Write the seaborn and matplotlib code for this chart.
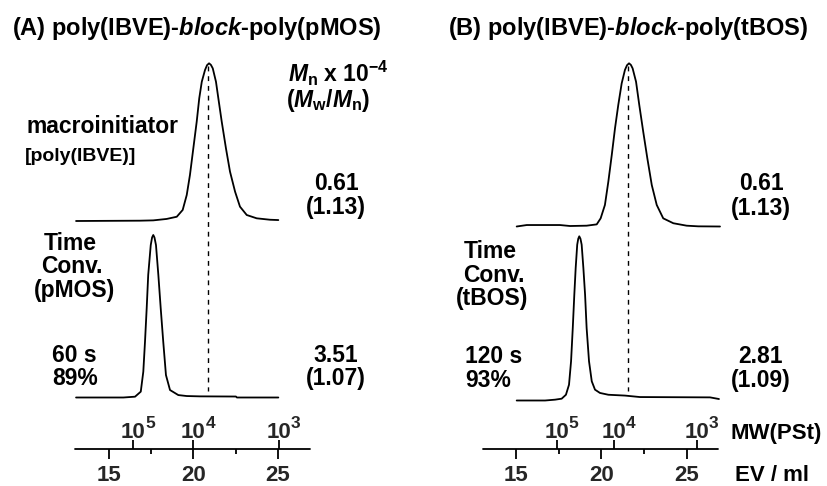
import numpy as np
import pandas as pd
import seaborn as sns
import matplotlib
matplotlib.use("Agg")
from matplotlib import pyplot as plt

# SEC curves: elution volume (ml) and normalised RI intensity
ev_a_macro = [13.05, 16.83, 17.62, 18.41, 19.01, 19.36, 19.60, 19.79, 19.99, 20.19, 20.34, 20.49,
              20.68, 20.80, 20.92, 21.03, 21.14, 21.33, 21.47, 21.67, 21.92, 22.16, 22.46, 22.75,
              23.15, 23.74, 24.53, 25.02]
int_a_macro = [0.0, 0.002, 0.004, 0.013, 0.027, 0.070, 0.165, 0.292, 0.461, 0.630, 0.778, 0.883,
               0.957, 0.988, 1.0, 0.99, 0.968, 0.883, 0.778, 0.630, 0.461, 0.313, 0.186, 0.091,
               0.038, 0.017, 0.008, 0.006]

ev_a_block = [13.05, 15.85, 16.54, 16.88, 17.03, 17.13, 17.23, 17.32, 17.47, 17.55, 17.62, 17.69,
              17.78, 17.92, 18.06, 18.21, 18.37, 18.61, 19.10, 19.60, 20.38, 22.51, 22.57, 25.02]
int_a_block = [0.0, 0.0, 0.005, 0.036, 0.159, 0.343, 0.549, 0.754, 0.938, 0.985, 1.0, 0.985,
               0.938, 0.754, 0.549, 0.343, 0.138, 0.046, 0.015, 0.009, 0.007, 0.006, 0.0, 0.0]

ev_b_macro = [15.04, 15.63, 17.57, 18.16, 19.13, 19.72, 19.95, 20.20, 20.40, 20.60, 20.79, 20.98,
              21.18, 21.37, 21.49, 21.61, 21.72, 21.82, 22.02, 22.21, 22.44, 22.68, 22.94, 23.23,
              23.61, 24.20, 24.98, 25.66, 26.93]
int_b_macro = [0.0, 0.009, 0.009, 0.003, 0.005, 0.013, 0.050, 0.132, 0.275, 0.438, 0.602, 0.744,
               0.877, 0.959, 0.988, 1.0, 0.99, 0.969, 0.887, 0.744, 0.581, 0.418, 0.254, 0.132,
               0.050, 0.020, 0.005, 0.001, 0.0]

ev_b_block = [15.04, 16.70, 17.28, 17.67, 17.92, 18.10, 18.22, 18.32, 18.41, 18.49, 18.58, 18.64,
              18.70, 18.77, 18.84, 18.94, 19.04, 19.13, 19.27, 19.43, 19.62, 19.91, 20.40, 21.37,
              22.25, 26.35, 26.87]
int_b_block = [0.0, 0.0, 0.005, 0.011, 0.035, 0.096, 0.239, 0.442, 0.644, 0.807, 0.949, 0.985,
               1.0, 0.985, 0.949, 0.807, 0.644, 0.442, 0.239, 0.117, 0.066, 0.046, 0.035, 0.030,
               0.021, 0.019, 0.009]

# peak of the macroinitiator (dashed reference line)
peak_ev_a = 20.88
peak_ev_b = 21.57

# axis ticks
ev_ticks = [15, 20, 25]
ev_minor = [17.5, 22.5]
mw_exps = ["5", "4", "3"]
mw_ev_a = [16.44, 20.0, 25.06]
mw_ev_b = [17.38, 20.75, 25.6]

titles = [r"(A) poly(IBVE)-$\mathit{block}$-poly(pMOS)",
          r"(B) poly(IBVE)-$\mathit{block}$-poly(tBOS)"]
mn_macro = ["0.61", "0.61"]
pdi_macro = ["(1.13)", "(1.13)"]
mn_block = ["3.51", "2.81"]
pdi_block = ["(1.07)", "(1.09)"]
times = ["60 s", "120 s"]
convs = ["89%", "93%"]
monomers = ["(pMOS)", "(tBOS)"]

sns.set_style("white")
plt.rcParams["font.family"] = ["Liberation Sans", "DejaVu Sans"]
plt.rcParams["font.weight"] = "bold"
plt.rcParams["mathtext.fontset"] = "custom"
plt.rcParams["mathtext.rm"] = "Liberation Sans:bold"
plt.rcParams["mathtext.bf"] = "Liberation Sans:bold"
plt.rcParams["mathtext.it"] = "Liberation Sans:italic:bold"

FS = 16.5
W, H = 828, 486
fig = plt.figure(figsize=(W / 100, H / 100), dpi=100)

def txt(x, y, s, size=FS, ha="left", **kw):
    fig.text(x / W, 1 - y / H, s, fontsize=size, ha=ha, va="baseline",
             fontweight="bold", color="black", **kw)

# pixel -> elution volume mapping per panel (x15 = px of EV 15, scale px/ml)
panels = [
    dict(left=0, x15=109.0, scale=16.9, axis=(75, 310), ax_y=449,
         traces=[(ev_a_macro, int_a_macro, 221.0, 157.7), (ev_a_block, int_a_block, 397.5, 162.5)],
         peak=peak_ev_a, dash=(66, 391), mw=mw_ev_a),
    dict(left=414, x15=516.0, scale=17.1, axis=(483, 718), ax_y=449,
         traces=[(ev_b_macro, int_b_macro, 226.5, 163.2), (ev_b_block, int_b_block, 400.5, 164.2)],
         peak=peak_ev_b, dash=(66, 391), mw=mw_ev_b),
]

for p in panels:
    ax = fig.add_axes([p["left"] / W, 0, 414 / W, 1])
    ax.set_xlim(15 - (p["x15"] - p["left"]) / p["scale"],
                15 + (p["left"] + 414 - p["x15"]) / p["scale"])
    ax.set_ylim(H, 0)
    ax.axis("off")
    to_ev = lambda px: 15 + (px - p["x15"]) / p["scale"]

    for ev, inten, base, height in p["traces"]:
        df = pd.DataFrame({"ev": ev, "y": base - height * np.array(inten)})
        sns.lineplot(data=df, x="ev", y="y", ax=ax, sort=False, estimator=None,
                     color="black", linewidth=1.3)

    ax.plot([p["peak"], p["peak"]], p["dash"], color="black", lw=1.0,
            linestyle=(0, (3.5, 3.5)))

    y0 = p["ax_y"]
    ax.plot([to_ev(p["axis"][0]), to_ev(p["axis"][1])], [y0, y0], color="black", lw=1.3)
    ax.vlines(ev_ticks, y0, y0 + 10, color="black", lw=1.3)
    ax.vlines(ev_minor, y0, y0 + 5, color="black", lw=1.3)
    ax.vlines(p["mw"], y0 - 9, y0, color="black", lw=1.3)
    for ev, e in zip(p["mw"], mw_exps):
        ax.text(ev, 437.5, "10", fontsize=16, ha="center", va="baseline", fontweight="bold")
        ax.annotate(e, xy=(ev, 437.5), xytext=(8.5, 7), textcoords="offset points",
                    fontsize=12.5, ha="left", va="baseline", fontweight="bold")
    for ev in ev_ticks:
        ax.text(ev, 481, str(ev), fontsize=16, ha="center", va="baseline", fontweight="bold")

# panel titles
txt(12, 35.5, titles[0], size=17)
txt(448, 35.5, titles[1], size=17)

# panel A texts
txt(288, 81.5, r"$M_\mathrm{n}$ x 10$^{\mathrm{-4}}$")
txt(286, 107, r"($M_\mathrm{w}$/$M_\mathrm{n}$)")
txt(27, 133, "macroinitiator")
txt(25, 160.5, "[poly(IBVE)]", size=14)

txt(336, 190.5, mn_macro[0], ha="center")
txt(336, 213.5, pdi_macro[0], ha="center")
txt(70, 250, "Time", ha="center")
txt(72, 273, "Conv.", ha="center")
txt(75, 296.5, monomers[0], ha="center")
txt(52, 361.5, times[0])
txt(52, 385, convs[0])
txt(336, 361.5, mn_block[0], ha="center")
txt(336, 385, pdi_block[0], ha="center")

# panel B texts
txt(761, 190.5, mn_macro[1], ha="center")
txt(761, 214.5, pdi_macro[1], ha="center")
txt(490, 258, "Time", ha="center")
txt(494, 281.5, "Conv.", ha="center")
txt(492, 305, monomers[1], ha="center")
txt(465, 363, times[1])
txt(465, 386.5, convs[1])
txt(761, 363, mn_block[1], ha="center")
txt(761, 386.5, pdi_block[1], ha="center")
txt(731, 439, "MW(PSt)", size=16)
txt(735, 481, "EV / ml", size=16)

fig.savefig("out.png", dpi=100)
